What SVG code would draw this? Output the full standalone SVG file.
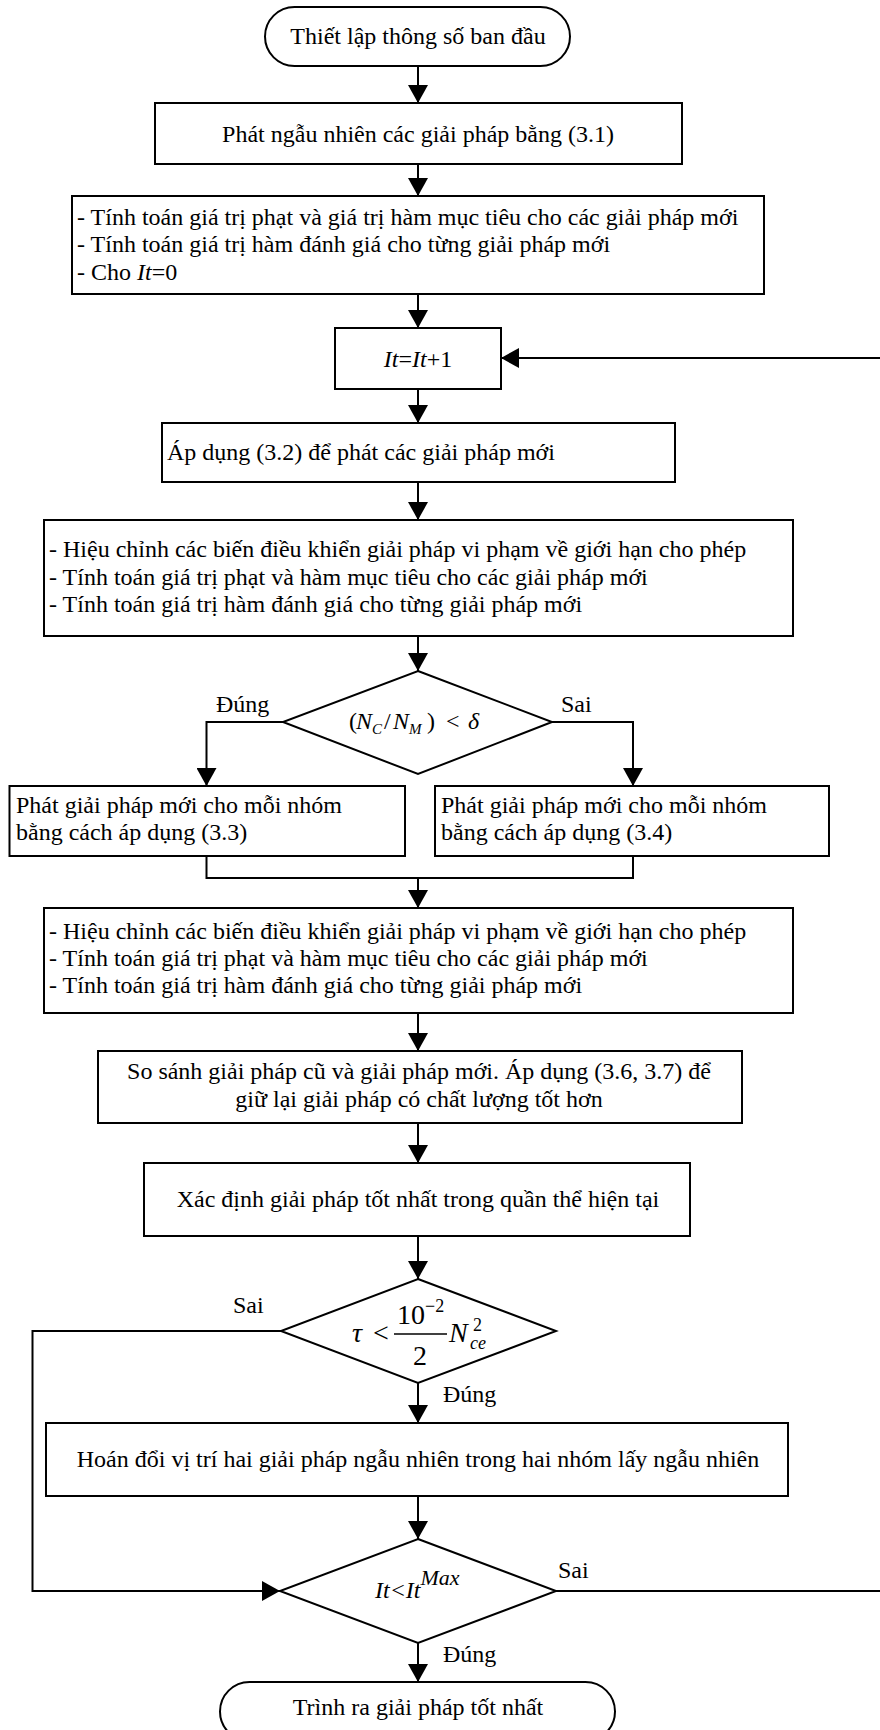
<svg xmlns="http://www.w3.org/2000/svg" width="880" height="1730" viewBox="0 0 880 1730">
<style>
.s{fill:#fff;stroke:#000;stroke-width:2}
.t{font-family:"Liberation Serif","Times New Roman",serif;font-size:24px;fill:#000}
.c{text-anchor:middle}
.i{font-style:italic}
.e{fill:none;stroke:#000;stroke-width:2}
</style>
<defs>
<marker id="ah" viewBox="0 0 18 20" refX="18" refY="10" markerWidth="18" markerHeight="20" markerUnits="userSpaceOnUse" orient="auto">
<path d="M0,0 L18,10 L0,20 Z" fill="#000"/>
</marker>
</defs>
<rect width="880" height="1730" fill="#fff"/>
<g id="connectors">
<path class="e" d="M418,66 V103" marker-end="url(#ah)"/>
<path class="e" d="M418,164 V196" marker-end="url(#ah)"/>
<path class="e" d="M418,294 V328" marker-end="url(#ah)"/>
<path class="e" d="M418,389 V423" marker-end="url(#ah)"/>
<path class="e" d="M418,482 V520" marker-end="url(#ah)"/>
<path class="e" d="M418,636 V671" marker-end="url(#ah)"/>
<path class="e" d="M283,722 H206.5 V786" marker-end="url(#ah)"/>
<path class="e" d="M552,722 H633 V786" marker-end="url(#ah)"/>
<path class="e" d="M206.5,856 V878 H633 V856"/>
<path class="e" d="M418,878 V908" marker-end="url(#ah)"/>
<path class="e" d="M418,1013 V1051" marker-end="url(#ah)"/>
<path class="e" d="M418,1123 V1163" marker-end="url(#ah)"/>
<path class="e" d="M418,1236 V1279" marker-end="url(#ah)"/>
<path class="e" d="M418,1383 V1423" marker-end="url(#ah)"/>
<path class="e" d="M281,1331 H32.5 V1591 H280" marker-end="url(#ah)"/>
<path class="e" d="M418,1496 V1539" marker-end="url(#ah)"/>
<path class="e" d="M418,1643 V1682" marker-end="url(#ah)"/>
<path class="e" d="M556,1591 H884 V358 H501" marker-end="url(#ah)"/>
<text class="t" x="216" y="712">Đúng</text>
<text class="t" x="561" y="712">Sai</text>
<text class="t" x="233" y="1313">Sai</text>
<text class="t" x="443" y="1402">Đúng</text>
<text class="t" x="558" y="1578">Sai</text>
<text class="t" x="443" y="1662">Đúng</text>
</g>
<g id="start">
<rect class="s" x="265" y="7" width="305" height="59" rx="29.5"/>
<text class="t c" x="418" y="44">Thiết lập thông số ban đầu</text>
</g>
<g id="init">
<rect class="s" x="155" y="103" width="527" height="61"/>
<text class="t c" x="418" y="142">Phát ngẫu nhiên các giải pháp bằng (3.1)</text>
</g>
<g id="eval0">
<rect class="s" x="72" y="196" width="692" height="98"/>
<text class="t" x="77" y="225">- Tính toán giá trị phạt và giá trị hàm mục tiêu cho các giải pháp mới</text>
<text class="t" x="77" y="252">- Tính toán giá trị hàm đánh giá cho từng giải pháp mới</text>
<text class="t" x="77" y="280">- Cho <tspan class="i">It</tspan>=0</text>
</g>
<g id="iter">
<rect class="s" x="335" y="328" width="166" height="61"/>
<text class="t c" x="418" y="367"><tspan class="i">It</tspan>=<tspan class="i">It</tspan>+1</text>
</g>
<g id="apply32">
<rect class="s" x="162" y="423" width="513" height="59"/>
<text class="t" x="167" y="460">Áp dụng (3.2) để phát các giải pháp mới</text>
</g>
<g id="eval1">
<rect class="s" x="44" y="520" width="749" height="116"/>
<text class="t" x="49" y="557">- Hiệu chỉnh các biến điều khiển giải pháp vi phạm về giới hạn cho phép</text>
<text class="t" x="49" y="585">- Tính toán giá trị phạt và hàm mục tiêu cho các giải pháp mới</text>
<text class="t" x="49" y="612">- Tính toán giá trị hàm đánh giá cho từng giải pháp mới</text>
</g>
<g id="dec1">
<polygon class="s" points="418,671 552,722 418,774 283,722"/>
<text class="t" y="729"><tspan x="349">(</tspan><tspan class="i" x="356">N</tspan><tspan class="i" dy="5" style="font-size:15px">C</tspan><tspan x="384" dy="-5">/</tspan><tspan class="i" x="393">N</tspan><tspan class="i" dy="5" style="font-size:15px">M</tspan><tspan x="427" dy="-5">)</tspan><tspan x="446">&lt;</tspan><tspan class="i" x="468">δ</tspan></text>
</g>
<g id="gen33">
<rect class="s" x="9.5" y="786" width="395.5" height="70"/>
<text class="t" x="16" y="813">Phát giải pháp mới cho mỗi nhóm</text>
<text class="t" x="16" y="840">bằng cách áp dụng (3.3)</text>
</g>
<g id="gen34">
<rect class="s" x="435" y="786" width="394" height="70"/>
<text class="t" x="441" y="813">Phát giải pháp mới cho mỗi nhóm</text>
<text class="t" x="441" y="840">bằng cách áp dụng (3.4)</text>
</g>
<g id="eval2">
<rect class="s" x="44" y="908" width="749" height="105"/>
<text class="t" x="49" y="939">- Hiệu chỉnh các biến điều khiển giải pháp vi phạm về giới hạn cho phép</text>
<text class="t" x="49" y="966">- Tính toán giá trị phạt và hàm mục tiêu cho các giải pháp mới</text>
<text class="t" x="49" y="993">- Tính toán giá trị hàm đánh giá cho từng giải pháp mới</text>
</g>
<g id="compare">
<rect class="s" x="98" y="1051" width="644" height="72"/>
<text class="t c" x="419" y="1079">So sánh giải pháp cũ và giải pháp mới. Áp dụng (3.6, 3.7) để</text>
<text class="t c" x="419" y="1107">giữ lại giải pháp có chất lượng tốt hơn</text>
</g>
<g id="best">
<rect class="s" x="144" y="1163" width="546" height="73"/>
<text class="t c" x="418" y="1207">Xác định giải pháp tốt nhất trong quần thể hiện tại</text>
</g>
<g id="dec2">
<polygon class="s" points="418,1279 556,1331 418,1383 281,1331"/>
<text class="t i" x="352" y="1342" style="font-size:28px">τ</text>
<text class="t" x="373" y="1342" style="font-size:28px">&lt;</text>
<text class="t" x="397" y="1324" style="font-size:28px">10</text>
<text class="t" x="425" y="1312" style="font-size:18px">−2</text>
<line x1="394" y1="1334" x2="447" y2="1334" stroke="#000" stroke-width="1.5"/>
<text class="t" x="413" y="1365" style="font-size:28px">2</text>
<text class="t i" x="449" y="1342" style="font-size:28px">N</text>
<text class="t" x="473" y="1331" style="font-size:18px">2</text>
<text class="t i" x="470" y="1349" style="font-size:18px">ce</text>
</g>
<g id="swap">
<rect class="s" x="46" y="1423" width="742" height="73"/>
<text class="t c" x="418" y="1467">Hoán đổi vị trí hai giải pháp ngẫu nhiên trong hai nhóm lấy ngẫu nhiên</text>
</g>
<g id="dec3">
<polygon class="s" points="418,1539 556,1591 418,1643 280,1591"/>
<text class="t i" x="375" y="1598">It&lt;It<tspan dy="-13" style="font-size:22px">Max</tspan></text>
</g>
<g id="end">
<rect class="s" x="220" y="1682" width="395" height="59" rx="29.5"/>
<text class="t c" x="418" y="1715">Trình ra giải pháp tốt nhất</text>
</g>
</svg>
